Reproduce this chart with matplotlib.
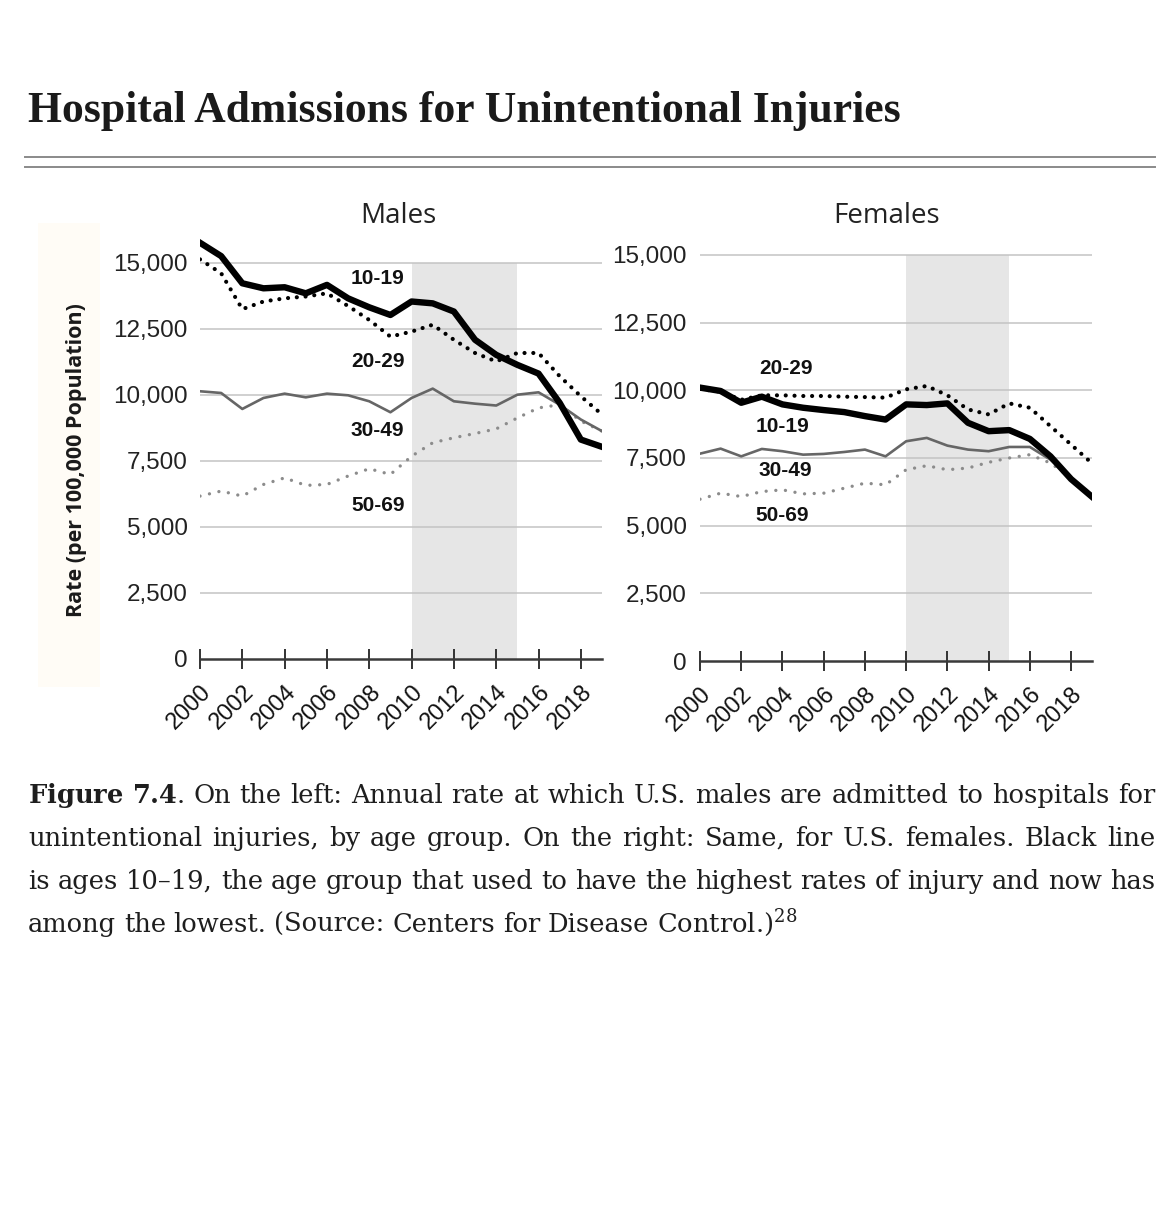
import numpy as np
import matplotlib
matplotlib.use("Agg")
import matplotlib.pyplot as plt
from matplotlib.patches import Rectangle
from matplotlib.lines import Line2D
from matplotlib.transforms import ScaledTranslation

W, H = 1170, 1228

years = np.arange(2000, 2020)
tick_years = np.arange(2000, 2019, 2)
y_ticks = [0, 2500, 5000, 7500, 10000, 12500, 15000]
shade_span = (2010, 2015)
shade_top = 15000

male_10_19 = [15755, 15250, 14220, 14030, 14070, 13840, 14160, 13650, 13310, 13020,
              13530, 13460, 13150, 12080, 11510, 11130, 10800, 9690, 8300, 8025]
male_20_29 = [15126, 14600, 13240, 13530, 13650, 13720, 13840, 13360, 12830, 12200,
              12390, 12650, 12080, 11580, 11260, 11580, 11580, 10700, 9940, 9250]
male_30_49 = [10130, 10065, 9460, 9876, 10040, 9900, 10040, 9977, 9750, 9335,
              9876, 10230, 9750, 9660, 9590, 10000, 10090, 9620, 9060, 8620]
male_50_69 = [6160, 6350, 6160, 6600, 6850, 6565, 6600, 6920, 7195, 6980,
              7670, 8180, 8370, 8530, 8705, 9120, 9500, 9620, 9000, 8620]

female_10_19 = [10100, 9975, 9540, 9765, 9480, 9356, 9270, 9195, 9047, 8920,
                9480, 9455, 9517, 8800, 8490, 8530, 8205, 7560, 6720, 6075]
female_20_29 = [10050, 9950, 9650, 9815, 9815, 9790, 9790, 9765, 9750, 9730,
                10037, 10160, 9815, 9294, 9110, 9517, 9356, 8675, 7995, 7313]
female_30_49 = [7660, 7846, 7560, 7834, 7750, 7623, 7650, 7722, 7810, 7560,
                8118, 8242, 7957, 7810, 7750, 7907, 7907, 7437, 6720, 6140]
female_50_69 = [5977, 6200, 6075, 6260, 6323, 6175, 6200, 6385, 6570, 6510,
                7066, 7215, 7066, 7128, 7340, 7500, 7623, 7314, 6757, 6140]

groups = ["10-19", "20-29", "30-49", "50-69"]

title = "Hospital Admissions for Unintentional Injuries"
y_label = "Rate (per 100,000 Population)"
caption = [
    r"$\mathbf{Figure}$ $\mathbf{7.4}$. On the left: Annual rate at which U.S. males are admitted to hospitals for",
    "unintentional injuries, by age group. On the right: Same, for U.S. females. Black line",
    "is ages 10\u201319, the age group that used to have the highest rates of injury and now has",
    r"among the lowest. (Source: Centers for Disease Control.)$^{28}$",
]

plt.rcParams["mathtext.fontset"] = "custom"
plt.rcParams["mathtext.rm"] = "DejaVu Serif"
plt.rcParams["mathtext.bf"] = "DejaVu Serif:bold"

styles = {
    "10-19": dict(color="black", lw=4.6, ls="-", zorder=6, solid_joinstyle="round"),
    "20-29": dict(color="black", lw=3.0, ls=(0, (0.01, 2.1)), dash_capstyle="round", zorder=5),
    "30-49": dict(color="#666666", lw=1.9, ls="-", zorder=4),
    "50-69": dict(color="#8c8c8c", lw=2.4, ls=(0, (0.01, 2.9)), dash_capstyle="round", zorder=3),
}

fig = plt.figure(figsize=(W / 100, H / 100), dpi=100)


def px(x, y):
    return x / W, 1 - y / H


def panel(rect, series, ypad, labels):
    ax = fig.add_axes(rect)
    ax.set_facecolor("none")
    ax.fill_between(shade_span, 0, shade_top, color="#e6e6e6", lw=0, zorder=0)
    for v in y_ticks[1:]:
        ax.axhline(v, color="#c3c3c3", lw=1.1, zorder=1)
    for g, vals in zip(groups, series):
        ax.plot(years, vals, **styles[g])
    ax.set_xlim(2000, 2019)
    ax.set_ylim(0, 16000)
    for s in ["top", "right", "left"]:
        ax.spines[s].set_visible(False)
    ax.spines["bottom"].set_color("#3a3a3a")
    ax.spines["bottom"].set_linewidth(1.8)
    ax.spines["bottom"].set_zorder(7)
    ax.set_yticks(y_ticks)
    ax.set_yticklabels([f"{v:,}" for v in y_ticks], fontfamily="Liberation Sans",
                       fontsize=17.5, color="#222222")
    ax.tick_params(axis="y", length=0, pad=ypad)
    ax.set_xticks(tick_years)
    ax.set_xticklabels([str(t) for t in tick_years], rotation=45, ha="right",
                       va="center", rotation_mode="anchor",
                       fontfamily="Liberation Sans", fontsize=17, color="#111111")
    ax.tick_params(axis="x", direction="inout", length=15, width=1.4,
                   color="#333333", pad=14)
    off = ScaledTranslation(8 / 100, 0, fig.dpi_scale_trans)
    for lab in ax.get_xticklabels():
        lab.set_transform(lab.get_transform() + off)
    for g, (lx, ly) in zip(groups, labels):
        ax.text(lx, ly, g, ha="center", va="center", fontfamily="Liberation Sans",
                fontweight="bold", fontsize=15, color="#111111", zorder=8)
    return ax


ax_m = panel([200 / W, 1 - 658.7 / H, 402 / W, 422.4 / H],
             [male_10_19, male_20_29, male_30_49, male_50_69], 9,
             [(2008.4, 14420), (2008.4, 11240), (2008.4, 8660), (2008.4, 5820)])
ax_f = panel([700 / W, 1 - 661 / H, 391.7 / W, 433.1 / H],
             [female_10_19, female_20_29, female_30_49, female_50_69], 9.5,
             [(2004.0, 8655), (2004.15, 10810), (2004.15, 7055), (2004.0, 5357)])

fig.text(*px(398, 216), "Males", ha="center", va="center", fontfamily="Open Sans",
         fontsize=20, color="#222222")
fig.text(*px(887, 216), "Females", ha="center", va="center", fontfamily="Open Sans",
         fontsize=20, color="#222222")

# faint panel behind the y label
fig.patches.append(Rectangle(px(38, 687), 62 / W, 464 / H, transform=fig.transFigure,
                             color="#fffcf6", lw=0, zorder=0))
fig.text(*px(77, 460), y_label, rotation=90, ha="center", va="center",
         fontfamily="Open Sans", fontweight="bold", fontsize=15.5, color="#1a1a1a")

# title and rules
fig.text(*px(28, 122), title, ha="left", va="baseline", fontfamily="Liberation Serif",
         fontweight="bold", fontsize=31.4, color="#1a1a1a")
for yy in (157, 167):
    fig.add_artist(Line2D([25 / W, 1155 / W], [1 - yy / H] * 2, transform=fig.transFigure,
                          color="#8a8a8a", lw=1.4))

# justified caption
r = fig.canvas.get_renderer()
x0, x1 = 28, 1155
cap_size = 18.5
for i, line in enumerate(caption):
    y = 1 - (803 + i * 43) / H
    words = line.split(" ")
    texts = [fig.text(0, y, w, ha="left", va="baseline", fontfamily="DejaVu Serif",
                      fontsize=cap_size, color="#1e1e1e") for w in words]
    widths = [t.get_window_extent(r).width for t in texts]
    if i == len(caption) - 1:
        gap = cap_size * 100 / 72 * 0.3
    else:
        gap = (x1 - x0 - sum(widths)) / (len(words) - 1)
    x = x0
    for t, w in zip(texts, widths):
        t.set_x(x / W)
        x += w + gap

fig.savefig("out.png", dpi=100, facecolor="white")
